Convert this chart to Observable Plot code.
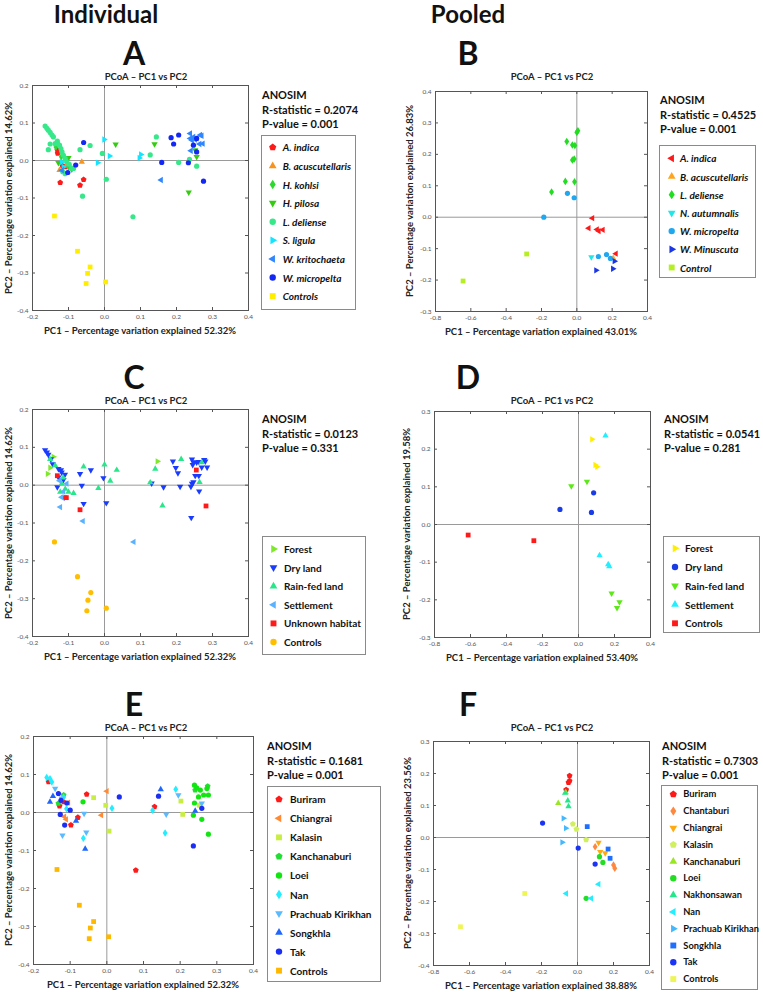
<!DOCTYPE html>
<html><head><meta charset="utf-8">
<script src="https://cdn.jsdelivr.net/npm/d3@7"></script>
<script src="https://cdn.jsdelivr.net/npm/@observablehq/plot@0.6"></script>
<style>
body{margin:0;background:#fff;font-family:Lato,sans-serif;}
#fig{position:relative;width:763px;height:992px;overflow:hidden;background:#fff;}
.t{position:absolute;white-space:nowrap;line-height:1;}
</style></head><body><div id="fig"></div>
<script>
// ---------------- DATA ----------------
const headers = ["Individual", "Pooled"];
const panelLetters = ["A","B","C","D","E","F"];
const panelTitle = "PCoA – PC1 vs PC2";
const xLabels = ["PC1 – Percentage variation explained 52.32%","PC1 – Percentage variation explained 43.01%","PC1 – Percentage variation explained 52.32%","PC1 – Percentage variation explained 53.40%","PC1 – Percentage variation explained 52.32%","PC1 – Percentage variation explained 38.88%"];
const yLabels = ["PC2 – Percentage variation explained 14.62%","PC2 – Percentage variation explained 26.83%","PC2 – Percentage variation explained 14.62%","PC2 – Percentage variation explained 19.58%","PC2 – Percentage variation explained 14.62%","PC2 – Percentage variation explained 23.56%"];
const rStats = ["0.2074","0.4525","0.0123","0.0541","0.1681","0.7303"];
const pValues = ["0.001","0.001","0.331","0.281","0.001","0.001"];

const ticksIndX = [-0.2,-0.1,0,0.1,0.2,0.3,0.4];
const ticksIndY = [-0.4,-0.3,-0.2,-0.1,0,0.1,0.2];
const ticksPoolX = [-0.8,-0.6,-0.4,-0.2,0,0.2,0.4];
const ticksBY = [-0.3,-0.2,-0.1,0,0.1,0.2,0.3,0.4];
const ticksDY = [-0.3,-0.2,-0.1,0,0.1,0.2,0.3];
const ticksFY = [-0.4,-0.3,-0.2,-0.1,0,0.1,0.2,0.3];

const groupsA = ["A. indica","B. acuscutellaris","H. kohlsi","H. pilosa","L. deliense","S. ligula","W. kritochaeta","W. micropelta","Controls"];
const pointsA = [
 [4,-0.165,0.092],[4,-0.160,0.086],[4,-0.156,0.081],[4,-0.151,0.075],[4,-0.146,0.068],[4,-0.142,0.063],[4,-0.156,0.029],[4,-0.151,0.044],[4,-0.137,0.045],[4,-0.131,0.052],[4,-0.125,0.041],[4,-0.121,0.032],[4,-0.118,0.023],[4,-0.114,0.014],[4,-0.109,0.005],[4,-0.105,-0.004],[4,-0.098,-0.010],[4,-0.091,-0.020],[4,-0.086,-0.021],[4,-0.116,-0.030],[4,-0.109,-0.035],[4,-0.068,0.029],[4,-0.040,0.040],[4,-0.006,0.019],[4,0.005,-0.050],[4,-0.061,-0.095],[4,0.079,-0.150],[4,0.127,0.015],[4,0.144,0.063],[4,0.206,-0.005],[4,0.256,-0.015],[4,0.236,0.003],
 [0,-0.130,0.019],[0,-0.131,0.028],[0,-0.117,-0.014],[0,-0.123,-0.059],[0,-0.058,-0.051],[0,-0.068,-0.066],[0,-0.109,-0.017],
 [1,-0.063,-0.004],[1,-0.125,-0.026],[1,-0.105,-0.012],[1,-0.128,0.045],
 [2,-0.120,0.010],[2,-0.100,-0.017],[2,-0.091,-0.023],[2,-0.135,0.036],
 [3,-0.128,-0.006],[3,-0.100,0.007],[3,0.031,0.043],[3,0.139,0.044],[3,0.234,-0.085],[3,0.256,0.010],[3,0.252,0.028],
 [5,-0.001,0.056],[5,0.014,0.012],[5,-0.019,-0.006],[5,0.097,0.007],[5,0.101,0.016],[5,-0.114,-0.017],[5,-0.119,-0.004],
 [6,0.238,0.072],[6,0.238,0.059],[6,0.243,0.054],[6,0.247,0.063],[6,0.256,0.059],[6,0.266,0.068],[6,0.270,0.066],[6,0.273,0.045],[6,0.264,0.044],[6,0.157,-0.052],[6,0.240,0.026],[6,0.252,0.056],[6,-0.118,-0.026],
 [7,-0.058,0.048],[7,-0.102,-0.032],[7,-0.080,-0.012],[7,0.159,-0.005],[7,0.185,0.061],[7,0.206,0.068],[7,0.192,0.044],[7,0.233,-0.006],[7,0.247,0.041],[7,0.256,0.023],[7,0.256,0.059],[7,0.275,-0.055],
 [8,-0.139,-0.148],[8,-0.075,-0.242],[8,-0.040,-0.284],[8,-0.047,-0.301],[8,-0.051,-0.328],[8,0.003,-0.324]
];

const groupsB = ["A. indica","B. acuscutellaris","L. deliense","N. autumnalis","W. micropelta","W. Minuscuta","Control"];
const pointsB = [
 [2,0.0,0.270],[2,0.006,0.275],[2,-0.057,0.241],[2,-0.025,0.230],[2,-0.011,0.228],[2,-0.025,0.182],[2,-0.015,0.185],[2,-0.065,0.114],[2,-0.013,0.113],[2,-0.143,0.080],
 [4,-0.053,0.076],[4,-0.015,0.062],[4,-0.187,0.0],[4,0.122,-0.125],[4,0.168,-0.119],[4,0.190,-0.131],
 [0,0.088,-0.003],[0,0.067,-0.035],[0,0.114,-0.039],[0,0.124,-0.044],[0,0.147,-0.040],[0,0.221,-0.116],
 [1,0.206,-0.130],
 [3,0.082,-0.127],
 [5,0.109,-0.169],[5,0.204,-0.164],[5,0.213,-0.140],
 [6,-0.284,-0.117],[6,-0.644,-0.203]
];

const groupsC = ["Forest","Dry land","Rain-fed land","Settlement","Unknown habitat","Controls"];
const pointsC = [
 [1,-0.165,0.093],[1,-0.160,0.087],[1,-0.156,0.081],[1,-0.149,0.069],[1,-0.144,0.056],[1,-0.128,0.043],[1,-0.119,0.034],[1,-0.128,0.021],[1,-0.114,0.014],[1,-0.131,-0.005],[1,-0.112,-0.032],[1,-0.068,0.030],[1,-0.038,0.040],[1,-0.063,-0.001],[1,-0.058,-0.049],[1,-0.003,0.019],[1,0.005,-0.047],[1,0.131,0.005],[1,0.164,-0.005],[1,0.190,0.063],[1,0.198,0.046],[1,0.204,0.032],[1,0.210,-0.004],[1,0.240,-0.004],[1,0.243,0.068],[1,0.247,0.061],[1,0.245,0.054],[1,0.256,0.060],[1,0.262,0.062],[1,0.277,0.067],[1,0.280,0.063],[1,0.270,0.047],[1,0.285,0.047],[1,0.252,0.025],[1,0.262,0.025],[1,0.247,0.008],[1,0.243,0.004],[1,0.263,-0.016],[1,0.241,-0.086],[1,-0.121,0.040],[1,-0.110,0.028],
 [2,-0.151,0.069],[2,-0.137,0.052],[2,-0.119,0.004],[2,-0.109,-0.010],[2,-0.100,-0.018],[2,-0.086,-0.021],[2,-0.058,0.049],[2,-0.017,-0.008],[2,0.0,0.054],[2,0.016,0.011],[2,0.034,0.040],[2,0.127,0.007],[2,0.141,0.043],[2,0.161,-0.054],[2,0.213,0.069],[2,0.264,0.008],[2,0.270,0.060],[2,-0.123,-0.018],[2,-0.115,0.020],
 [0,-0.158,0.030],[0,-0.151,0.046],[0,0.147,0.063],[0,-0.142,0.075],
 [3,-0.123,-0.058],[3,-0.060,-0.095],[3,0.081,-0.150],[3,-0.119,-0.032],[3,-0.114,-0.017],[3,-0.125,0.012],[3,-0.105,0.004],
 [4,-0.131,0.025],[4,-0.106,-0.033],[4,-0.068,-0.065],[4,0.255,0.040],[4,0.282,-0.055],
 [5,-0.139,-0.150],[5,-0.075,-0.242],[5,-0.038,-0.284],[5,-0.046,-0.304],[5,-0.049,-0.332],[5,0.005,-0.325]
];

const groupsD = ["Forest","Dry land","Rain-fed land","Settlement","Controls"];
const pointsD = [
 [0,0.075,0.226],[0,0.093,0.158],[0,0.103,0.153],
 [1,-0.103,0.040],[1,0.084,0.084],[1,0.072,0.032],
 [2,-0.040,0.102],[2,0.047,0.114],[2,0.184,-0.183],[2,0.228,-0.206],[2,0.214,-0.221],
 [3,0.150,0.236],[3,0.117,-0.082],[3,0.165,-0.106],[3,0.171,-0.111],
 [4,-0.613,-0.028],[4,-0.248,-0.043]
];

const groupsE = ["Buriram","Chiangrai","Kalasin","Kanchanaburi","Loei","Nan","Prachuab Kirikhan","Songkhla","Tak","Controls"];
const pointsE = [
 [5,-0.164,0.092],[5,-0.064,-0.068],[5,0.014,0.011],[5,0.159,-0.054],[5,0.125,0.006],[5,0.188,0.061],[5,-0.155,0.089],[5,-0.150,0.080],[5,-0.118,0.040],[5,-0.110,0.010],
 [6,-0.141,0.063],[6,-0.121,-0.060],[6,-0.062,-0.003],[6,-0.056,-0.052],[6,0.195,0.046],[6,0.162,-0.005],[6,0.259,0.024],[6,-0.123,0.037],
 [7,-0.155,0.028],[7,-0.147,0.043],[7,-0.059,-0.096],[7,0.147,0.061],[7,0.241,0.004],[7,-0.084,-0.022],
 [8,-0.132,0.050],[8,-0.127,-0.005],[8,-0.115,-0.033],[8,-0.100,0.006],[8,0.034,0.041],[8,0.141,0.043],[8,0.236,-0.088],[8,0.259,0.011],[8,-0.109,0.025],[8,-0.125,0.032],
 [0,-0.159,0.081],[0,-0.055,0.048],[0,-0.129,0.017],[0,-0.098,-0.033],[0,-0.079,-0.013],[0,0.079,-0.152],[0,0.130,0.015],[0,-0.118,0.028],
 [1,0.0,0.056],[1,-0.015,-0.007],[1,-0.111,-0.018],[1,-0.105,0.026],[1,-0.116,-0.011],
 [2,-0.036,0.039],[2,-0.003,0.019],[2,0.006,-0.049],[2,0.202,0.030],[2,0.207,-0.005],[2,0.252,0.019],
 [4,-0.065,0.028],[4,0.239,0.072],[4,0.245,0.065],[4,0.255,0.059],[4,0.264,0.046],[4,0.277,0.046],[4,0.273,0.063],[4,0.239,0.025],[4,0.259,-0.018],[4,0.277,-0.057],[4,0.236,-0.007],[4,0.250,0.041],
 [3,0.241,0.059],[3,0.275,0.069],[3,-0.132,0.024],[3,-0.118,0.046],
 [9,-0.136,-0.150],[9,-0.075,-0.244],[9,-0.036,-0.287],[9,-0.045,-0.304],[9,-0.048,-0.332],[9,0.005,-0.327]
];

const groupsF = ["Buriram","Chantaburi","Chiangrai","Kalasin","Kanchanaburi","Loei","Nakhonsawan","Nan","Prachuab Kirikhan","Songkhla","Tak","Controls"];
const pointsF = [
 [0,-0.044,0.193],[0,-0.044,0.177],[0,-0.050,0.172],[0,-0.063,0.149],
 [4,-0.107,0.107],[4,-0.065,0.141],
 [6,-0.054,0.115],[6,-0.050,0.097],[6,-0.069,0.139],
 [10,-0.194,0.045],[10,0.004,-0.033],[10,0.098,-0.083],
 [8,-0.078,0.060],[8,-0.065,0.029],[8,-0.085,-0.015],
 [3,-0.026,0.042],[3,-0.006,0.026],[3,0.048,-0.007],
 [9,0.054,0.034],[9,0.170,-0.036],[9,0.181,-0.065],
 [2,0.117,-0.016],[2,0.126,-0.045],[2,0.154,-0.049],
 [1,0.098,-0.029],[1,0.200,-0.086],[1,0.207,-0.096],
 [5,0.122,-0.060],[5,0.141,-0.078],[5,0.048,-0.190],
 [7,0.117,-0.146],[7,-0.063,-0.175],[7,0.076,-0.190],
 [11,-0.293,-0.175],[11,-0.650,-0.279]
];

// ---------------- STYLES ----------------
const colorsA = ["#ff1a1a","#f7941d","#2fd82f","#33cc11","#36e88a","#11e5ff","#2f86ff","#1428f5","#ffee00"];
const shapesA = ["pentagon","up","diamond","down","circle","right","left","circle","square"];
const colorsB = ["#ff1a1a","#ffa41c","#22dd22","#22e6e6","#1fa8f0","#1a36e6","#b5ee22"];
const shapesB = ["left","up","diamond","down","circle","right","square"];
const colorsC = ["#7fe82a","#1a3cff","#2ae68a","#5ab2ff","#ff1a1a","#ffbf00"];
const shapesC = ["right","down","up","left","square","circle"];
const colorsD = ["#ffee00","#1a3ce6","#5ee81a","#22eeff","#ff1a1a"];
const shapesD = ["right","circle","down","up","square"];
const colorsE = ["#ff1a1a","#ff8a33","#c8ee44","#22dd33","#11e611","#22eeff","#5abaff","#1f66ff","#1a2ef5","#ffb800"];
const shapesE = ["pentagon","left","square","pentagon","circle","diamond","down","up","circle","square"];
const colorsF = ["#ff1a1a","#ff8840","#ffaa11","#d0f060","#99e622","#22dd22","#22e88a","#22eeff","#44b8ff","#1f6fff","#1a33f5","#eef555"];
const shapesF = ["pentagon","diamond","down","pentagon","up","circle","up","left","right","square","circle","square"];

function poly(n, rot, k, sx = 1, sy = 1) {
  return {draw(ctx, size) {
    const r = Math.sqrt(size / Math.PI) * k;
    for (let i = 0; i < n; i++) {
      const a = rot + i * 2 * Math.PI / n;
      const px = r * Math.cos(a) * sx, py = r * Math.sin(a) * sy;
      if (i) ctx.lineTo(px, py); else ctx.moveTo(px, py);
    }
    ctx.closePath();
  }};
}
const SYM = {
  circle: d3.symbolCircle,
  up: poly(3, -Math.PI / 2, 1.4),
  down: poly(3, Math.PI / 2, 1.4),
  left: poly(3, Math.PI, 1.4),
  right: poly(3, 0, 1.4),
  square: poly(4, Math.PI / 4, 1.3),
  diamond: poly(4, -Math.PI / 2, 1.45, 0.65, 1),
  pentagon: poly(5, -Math.PI / 2, 1.18)
};

const fig = document.getElementById("fig");
function txt(s, x, y, o = {}) {
  const d = document.createElement("div");
  d.className = "t";
  d.textContent = s;
  d.style.left = x + "px"; d.style.top = y + "px";
  d.style.fontSize = (o.size || 10) + "px";
  d.style.fontWeight = o.weight || "bold";
  if (o.italic) d.style.fontStyle = "italic";
  d.style.color = o.color || "#111";
  const tx = o.anchor === "start" ? "0" : "-50%";
  d.style.transform = `translate(${tx},-50%)` + (o.rotate ? ` rotate(${o.rotate}deg)` : "");
  fig.appendChild(d);
}

const panels = [
  {groups: groupsA, points: pointsA, colors: colorsA, shapes: shapesA, xDomain: [-0.2, 0.4], yDomain: [-0.4, 0.2], xTicks: ticksIndX, yTicks: ticksIndY,
   frame: [32, 248, 85, 310], letterXY: [134, 53], titleX: 146, titleY: 77, yLabX: 9, anosim: [262, 94], legendBox: [261, 356, 135, 310], legY0: 147.3, legStep: 18.6, legMX: 272.7, legTX: 282.7, legSize: 10, italic: true},
  {groups: groupsB, points: pointsB, colors: colorsB, shapes: shapesB, xDomain: [-0.8, 0.4], yDomain: [-0.3, 0.4], xTicks: ticksPoolX, yTicks: ticksBY,
   frame: [435, 647, 91, 311], letterXY: [468, 53], titleX: 552, titleY: 77, yLabX: 410, anosim: [660, 99], legendBox: [659, 756, 145, 278], legY0: 158.3, legStep: 18.2, legMX: 671.7, legTX: 680, legSize: 10, italic: true},
  {groups: groupsC, points: pointsC, colors: colorsC, shapes: shapesC, xDomain: [-0.2, 0.4], yDomain: [-0.4, 0.2], xTicks: ticksIndX, yTicks: ticksIndY,
   frame: [32, 248, 409, 636], letterXY: [134, 377], titleX: 146, titleY: 401, yLabX: 9, anosim: [262, 418], legendBox: [262, 366, 536, 655], legY0: 549, legStep: 18.6, legMX: 273.5, legTX: 284, legSize: 10, italic: false},
  {groups: groupsD, points: pointsD, colors: colorsD, shapes: shapesD, xDomain: [-0.8, 0.4], yDomain: [-0.3, 0.3], xTicks: ticksPoolX, yTicks: ticksDY,
   frame: [434, 650, 411, 637], letterXY: [468, 377], titleX: 552, titleY: 401, yLabX: 407, anosim: [664, 418], legendBox: [663, 760, 536, 633], legY0: 548.3, legStep: 18.75, legMX: 675, legTX: 685, legSize: 10, italic: false},
  {groups: groupsE, points: pointsE, colors: colorsE, shapes: shapesE, xDomain: [-0.2, 0.4], yDomain: [-0.4, 0.2], xTicks: ticksIndX, yTicks: ticksIndY,
   frame: [33, 253, 736, 964], letterXY: [134, 704], titleX: 146, titleY: 728, yLabX: 9, anosim: [267, 745], legendBox: [267, 381, 786, 982], legY0: 799.3, legStep: 19.04, legMX: 279, legTX: 290, legSize: 10, italic: false},
  {groups: groupsF, points: pointsF, colors: colorsF, shapes: shapesF, xDomain: [-0.8, 0.4], yDomain: [-0.4, 0.3], xTicks: ticksPoolX, yTicks: ticksFY,
   frame: [433, 649, 741, 965], letterXY: [468, 704], titleX: 552, titleY: 728, yLabX: 408, anosim: [662, 745], legendBox: [661, 758, 785, 990], legY0: 794.3, legStep: 16.8, legMX: 673.3, legTX: 683.3, legSize: 9.3, italic: false}
];

const fmt = d => d.toFixed(1);
function drawPanel(p, k) {
  const [fx0, fx1, fy0, fy1] = p.frame;
  const mL = 30, mR = 8, mT = 6, mB = 16;
  const w = fx1 - fx0, h = fy1 - fy0;
  const rows = p.points.map(([g, x, y]) => ({g, x, y}));
  const chart = Plot.plot({
    width: w + mL + mR, height: h + mT + mB,
    marginLeft: mL, marginRight: mR, marginTop: mT, marginBottom: mB,
    x: {domain: p.xDomain}, y: {domain: p.yDomain},
    style: {fontFamily: "Lato, sans-serif", fontSize: "6.5px", color: "#555", background: "transparent", overflow: "visible"},
    marks: [
      Plot.ruleX([0], {stroke: "#9a9a9a", strokeWidth: 1}),
      Plot.ruleY([0], {stroke: "#9a9a9a", strokeWidth: 1}),
      ...p.groups.map((g, i) => Plot.dot(rows.filter(r => r.g === i), {x: "x", y: "y", r: 2.6, fill: p.colors[i], symbol: SYM[p.shapes[i]]})),
      Plot.tickX(p.xTicks, {x: d => d, insetTop: h - 3, stroke: "#555"}),
      Plot.tickX(p.xTicks, {x: d => d, insetBottom: h - 3, stroke: "#555"}),
      Plot.tickY(p.yTicks, {y: d => d, insetLeft: w - 3, stroke: "#555"}),
      Plot.tickY(p.yTicks, {y: d => d, insetRight: w - 3, stroke: "#555"}),
      Plot.frame({stroke: "#555"}),
      Plot.axisX(p.xTicks, {tickSize: 0, tickPadding: 4, tickFormat: fmt, label: null}),
      Plot.axisY(p.yTicks, {tickSize: 0, tickPadding: 4, tickFormat: fmt, label: null})
    ]
  });
  chart.style.position = "absolute";
  chart.style.left = (fx0 - mL) + "px";
  chart.style.top = (fy0 - mT) + "px";
  fig.appendChild(chart);

  // texts
  txt(panelLetters[k], p.letterXY[0], p.letterXY[1], {size: 32});
  txt(panelTitle, p.titleX, p.titleY, {size: 9.5, color: "#222"});
  txt(xLabels[k], (fx0 + fx1) / 2, fy1 + 21, {size: 9.5, color: "#222"});
  txt(yLabels[k], p.yLabX, (fy0 + fy1) / 2, {size: 9.5, color: "#222", rotate: -90});
  const [ax, ay] = p.anosim;
  txt("ANOSIM", ax, ay, {size: 11, anchor: "start"});
  txt("R-statistic = " + rStats[k], ax, ay + 14.5, {size: 11, anchor: "start"});
  txt("P-value = " + pValues[k], ax, ay + 29, {size: 11, anchor: "start"});

  // legend
  const [lx0, lx1, ly0, ly1] = p.legendBox;
  const box = document.createElement("div");
  box.style.cssText = `position:absolute;left:${lx0}px;top:${ly0}px;width:${lx1 - lx0}px;height:${ly1 - ly0}px;border:1px solid #8a8a8a;box-sizing:border-box;background:#fff;`;
  fig.appendChild(box);
  const svgNS = "http://www.w3.org/2000/svg";
  const svg = document.createElementNS(svgNS, "svg");
  svg.setAttribute("width", 763); svg.setAttribute("height", 992);
  svg.style.cssText = "position:absolute;left:0;top:0;pointer-events:none;overflow:visible";
  p.groups.forEach((g, i) => {
    const y = p.legY0 + i * p.legStep;
    const path = d3.path();
    SYM[p.shapes[i]].draw(path, Math.PI * 3.2 * 3.2);
    const el = document.createElementNS(svgNS, "path");
    el.setAttribute("d", path.toString());
    el.setAttribute("fill", p.colors[i]);
    el.setAttribute("transform", `translate(${p.legMX},${y})`);
    svg.appendChild(el);
    txt(g, p.legTX, y, {size: p.legSize, italic: p.italic, anchor: "start"});
  });
  fig.appendChild(svg);
}

txt(headers[0], 106, 14, {size: 24});
txt(headers[1], 468, 14, {size: 24});
panels.forEach(drawPanel);
</script>
</body></html>
